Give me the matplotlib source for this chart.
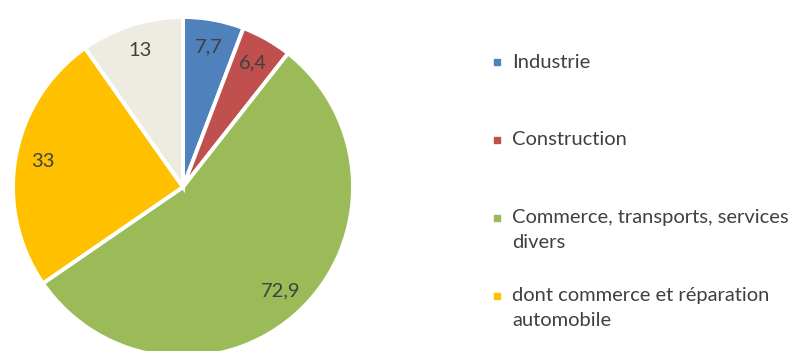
import matplotlib.pyplot as plt
from matplotlib.patches import Rectangle

W, H = 797, 351

values = [7.7, 6.4, 72.9, 33, 13]
value_labels = ["7,7", "6,4", "72,9", "33", "13"]
legend_labels = ["Industrie", "Construction",
                 "Commerce, transports, services\ndivers",
                 "dont commerce et réparation\nautomobile"]
colors = ["#4F81BD", "#C0504D", "#9BBB59", "#FFC000", "#EEECE1"]

plt.rcParams["font.family"] = ["Lato", "DejaVu Sans"]

fig = plt.figure(figsize=(W / 100, H / 100), dpi=100)

# pie: center (183, 187) px from top, radius 170 px
cx, cy, r = 183, 187, 170
ax = fig.add_axes([(cx - r) / W, (H - cy - r) / H, 2 * r / W, 2 * r / H])
wedges, _, autotexts = ax.pie(
    values, colors=colors, startangle=90, counterclock=False,
    wedgeprops=dict(edgecolor="white", linewidth=2.8),
    autopct="%1.1f", pctdistance=0.84,
    textprops=dict(color="#404040", fontsize=14.5))
for t, s in zip(autotexts, value_labels):
    t.set_text(s)
ax.set_xlim(-1, 1)
ax.set_ylim(-1, 1)
ax.set_aspect("equal")
ax.axis("off")

# legend, drawn by hand so the markers sit on the first line
x_mark, x_text = 497, 512
y_first = [62, 140, 218, 296]
line_h = 25
for lab, col, y0 in zip(legend_labels, colors, y_first):
    fig.add_artist(Rectangle(((x_mark - 3) / W, (H - y0 - 3) / H), 6 / W, 6 / H,
                             transform=fig.transFigure, color=col))
    for k, line in enumerate(lab.split("\n")):
        fig.text(x_text / W, (H - y0 - k * line_h) / H, line,
                 va="center", ha="left", fontsize=14.5, color="#404040")

fig.savefig("out.png", dpi=100)
